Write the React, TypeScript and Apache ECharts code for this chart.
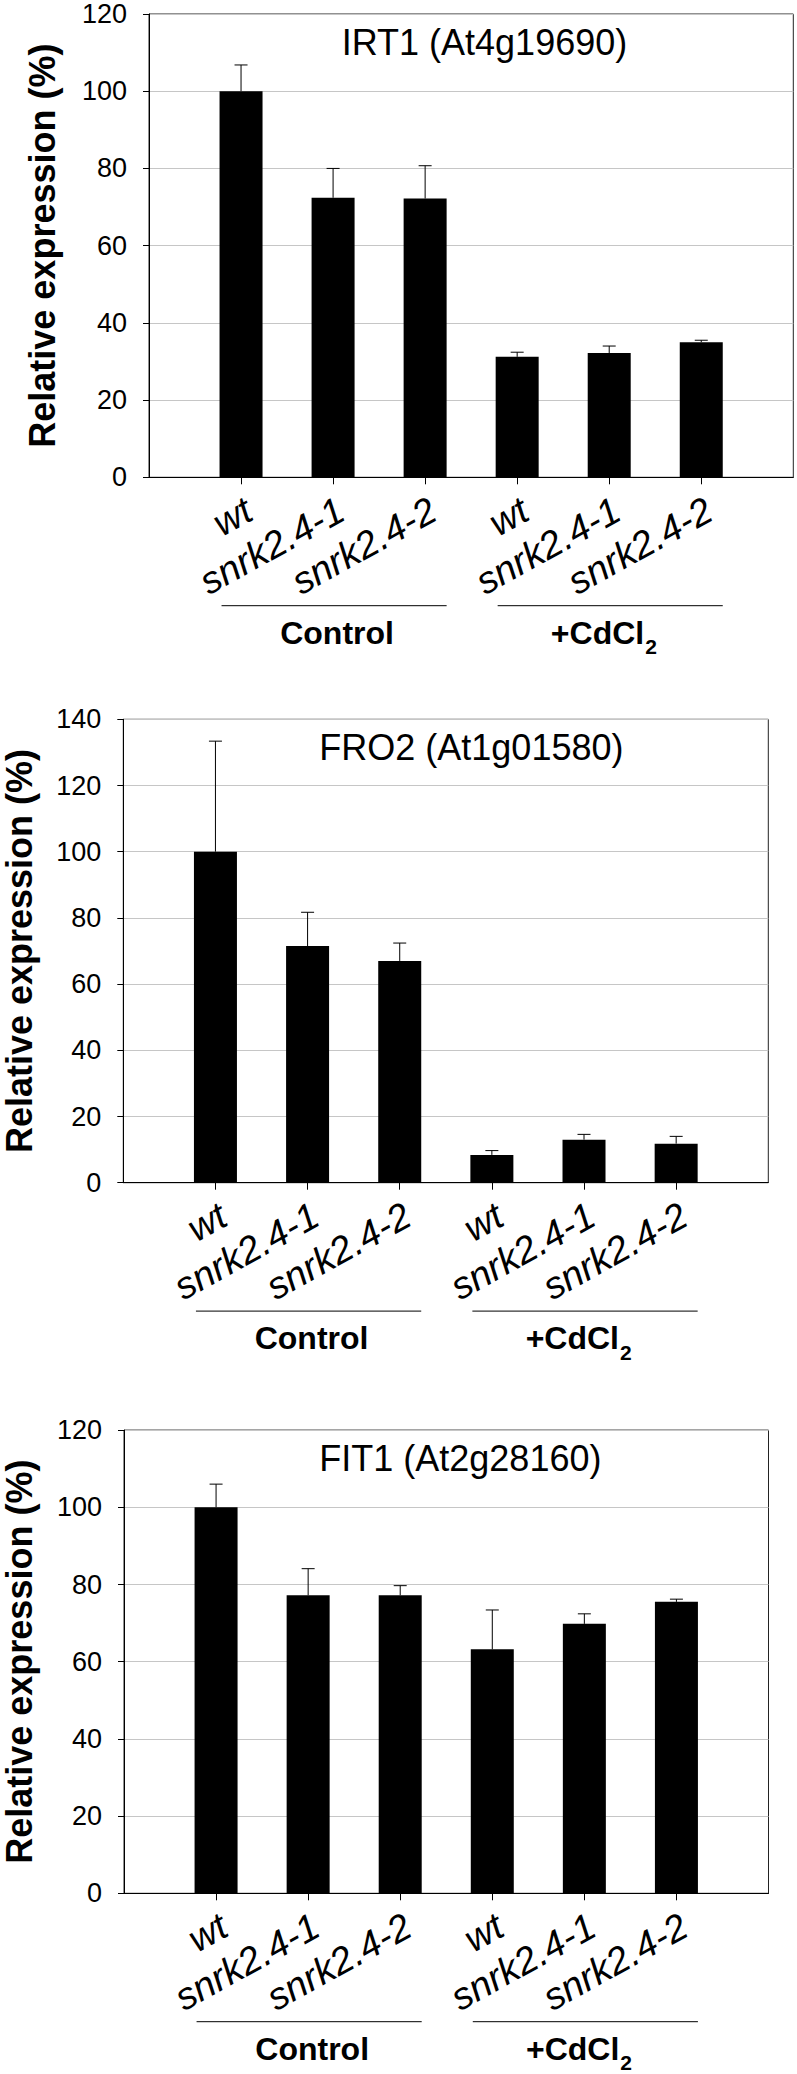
import React, { useEffect, useRef } from "react";
import * as echarts from "echarts";

const categories = ["wt", "snrk2.4-1", "snrk2.4-2", "wt", "snrk2.4-1", "snrk2.4-2"];
const categoryIndex = [0, 1, 2, 3, 4, 5];
const groupStart = [0, 3];
const groupEnd = [2, 5];
const groupMain = ["Control", "+CdCl"];
const groupSub = ["", "2"];
const yTitle = "Relative expression (%)";
const panelTitles = ["IRT1 (At4g19690)", "FRO2 (At1g01580)", "FIT1 (At2g28160)"];
const yMaxes = [120, 140, 120];
const yInterval = 20;

const irt1Means = [100, 72.4, 72.2, 31.2, 32.2, 35.0];
const irt1Upper = [106.8, 80.0, 80.7, 32.4, 34.0, 35.5];
const fro2Means = [100, 71.5, 67.0, 8.4, 13.0, 11.8];
const fro2Upper = [133.4, 81.7, 72.4, 9.7, 14.6, 14.0];
const fit1Means = [100, 77.2, 77.2, 63.2, 69.8, 75.5];
const fit1Upper = [106.0, 84.1, 79.7, 73.4, 72.4, 76.2];

const panelMeans = [irt1Means, fro2Means, fit1Means];
const panelUpper = [irt1Upper, fro2Upper, fit1Upper];

// layout (pixels)
const layouts = [
  { left: 149, top: 14, width: 644.3, height: 463.3, titleX: 341.7, yTitleX: 42.5 },
  { left: 123.3, top: 719.3, width: 645, height: 463.4, titleX: 319.3, yTitleX: 19.2 },
  { left: 124, top: 1430.1, width: 644.5, height: 463.2, titleX: 319.3, yTitleX: 19.2 },
];

const FAMILY = '"Liberation Sans", Arial, sans-serif';
const BAR_W = 43;
const LABEL_ANGLE = (29 * Math.PI) / 180;

export default function App() {
  const ref = useRef<HTMLDivElement>(null);

  useEffect(() => {
    if (!ref.current) return;
    const chart = echarts.init(ref.current, null, { renderer: "svg" });

    const grids: any[] = [];
    const xAxes: any[] = [];
    const yAxes: any[] = [];
    const series: any[] = [];
    const graphics: any[] = [];

    layouts.forEach((L, k) => {
      grids.push({
        left: L.left,
        top: L.top,
        width: L.width,
        height: L.height,
        show: true,
        borderColor: "#222",
        borderWidth: 1,
        backgroundColor: "transparent",
        containLabel: false,
      });
      xAxes.push({
        gridIndex: k,
        type: "value",
        min: -1,
        max: 6,
        interval: 1,
        axisLine: { show: true, onZero: false, lineStyle: { color: "#000", width: 1 } },
        axisTick: {
          show: true,
          customValues: categoryIndex,
          length: 7,
          lineStyle: { color: "#000", width: 1 },
        },
        axisLabel: { show: false },
        splitLine: { show: false },
      });
      yAxes.push({
        gridIndex: k,
        type: "value",
        min: 0,
        max: yMaxes[k],
        interval: yInterval,
        axisLine: { show: true, onZero: false, lineStyle: { color: "#000", width: 1 } },
        axisTick: { show: true, length: 6, lineStyle: { color: "#000", width: 1 } },
        axisLabel: { fontSize: 27, fontFamily: FAMILY, color: "#000", margin: 22 },
        splitLine: { show: true, lineStyle: { color: "#c6c6c6", width: 1 } },
      });

      const means = panelMeans[k];
      const upper = panelUpper[k];

      series.push({
        type: "bar",
        xAxisIndex: k,
        yAxisIndex: k,
        data: means.map((v, i) => [categoryIndex[i], v]),
        barWidth: BAR_W,
        itemStyle: { color: "#000" },
        silent: true,
        z: 2,
      });

      series.push({
        type: "custom",
        xAxisIndex: k,
        yAxisIndex: k,
        data: means.map((v, i) => [categoryIndex[i], v, upper[i]]),
        encode: { x: 0, y: [1, 2] },
        silent: true,
        z: 3,
        renderItem: (params: any, api: any) => {
          const x = api.value(0);
          const p0 = api.coord([x, api.value(1)]);
          const p1 = api.coord([x, api.value(2)]);
          const st = { stroke: "#000", lineWidth: 1 };
          return {
            type: "group",
            children: [
              { type: "line", shape: { x1: p0[0], y1: p0[1], x2: p1[0], y2: p1[1] }, style: st },
              { type: "line", shape: { x1: p1[0] - 6.5, y1: p1[1], x2: p1[0] + 6.5, y2: p1[1] }, style: st },
            ],
          };
        },
      });

      series.push({
        type: "custom",
        xAxisIndex: k,
        yAxisIndex: k,
        data: categoryIndex.map((i) => [i, 0]),
        encode: { x: 0, y: 1 },
        silent: true,
        clip: false,
        renderItem: (params: any, api: any) => {
          const p = api.coord([api.value(0), 0]);
          return {
            type: "text",
            x: p[0] + 8,
            y: p[1] + 30,
            rotation: LABEL_ANGLE,
            style: {
              text: categories[params.dataIndex],
              fontSize: 38,
              fontFamily: FAMILY,
              fontStyle: "italic",
              fill: "#000",
              align: "right",
              verticalAlign: "middle",
            },
          };
        },
      });

      series.push({
        type: "custom",
        xAxisIndex: k,
        yAxisIndex: k,
        data: groupStart.map((s, g) => [s, groupEnd[g]]),
        encode: { x: [0, 1] },
        silent: true,
        clip: false,
        renderItem: (params: any, api: any) => {
          const g = params.dataIndex;
          const pa = api.coord([api.value(0), 0]);
          const pb = api.coord([api.value(1), 0]);
          const y0 = pa[1];
          const cx = (pa[0] + pb[0]) / 2;
          const children: any[] = [
            {
              type: "line",
              shape: { x1: pa[0] - BAR_W / 2 + 2, y1: y0 + 128.4, x2: pb[0] + BAR_W / 2, y2: y0 + 128.4 },
              style: { stroke: "#000", lineWidth: 1 },
            },
          ];
          if (groupSub[g]) {
            children.push({
              type: "text",
              x: cx + 35,
              y: y0 + 155.6,
              style: { text: groupMain[g], fontSize: 32, fontWeight: "bold", fontFamily: FAMILY, fill: "#000", align: "right", verticalAlign: "middle" },
            });
            children.push({
              type: "text",
              x: cx + 36,
              y: y0 + 169.5,
              style: { text: groupSub[g], fontSize: 21, lineHeight: 15, fontWeight: "bold", fontFamily: FAMILY, fill: "#000", align: "left", verticalAlign: "middle" },
            });
          } else {
            children.push({
              type: "text",
              x: cx + 4,
              y: y0 + 155.6,
              style: { text: groupMain[g], fontSize: 32, fontWeight: "bold", fontFamily: FAMILY, fill: "#000", align: "center", verticalAlign: "middle" },
            });
          }
          return { type: "group", children };
        },
      });

      graphics.push({
        type: "text",
        x: L.titleX,
        y: L.top + 28.5,
        style: { text: panelTitles[k], fontSize: 36, fontFamily: FAMILY, fill: "#000", align: "left", verticalAlign: "middle" },
        silent: true,
      });
      graphics.push({
        type: "text",
        x: L.yTitleX,
        y: L.top + L.height / 2,
        rotation: Math.PI / 2,
        style: { text: yTitle, fontSize: 36, fontWeight: "bold", fontFamily: FAMILY, fill: "#000", align: "center", verticalAlign: "middle" },
        silent: true,
      });
    });

    chart.setOption({
      animation: false,
      backgroundColor: "#fff",
      grid: grids,
      xAxis: xAxes,
      yAxis: yAxes,
      series,
      graphic: graphics,
    });

    return () => chart.dispose();
  }, []);

  return (
    <div
      ref={ref}
      style={{ position: "absolute", left: 0, top: 0, width: 797, height: 2074, background: "#fff" }}
    />
  );
}
